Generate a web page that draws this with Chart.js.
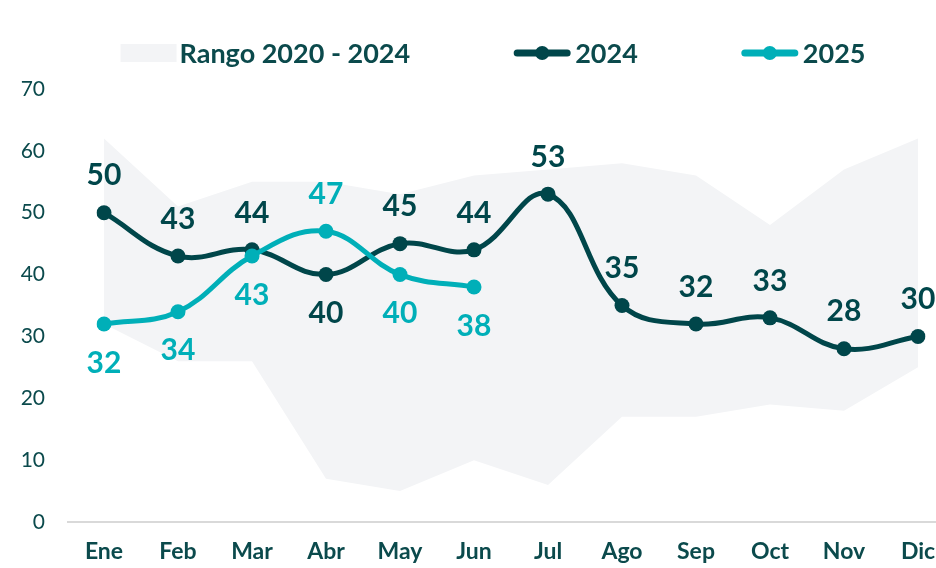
<!DOCTYPE html>
<html lang="es">
<head>
<meta charset="UTF-8">
<title>Rango 2020 - 2024 / 2024 / 2025</title>
<script src="https://cdn.jsdelivr.net/npm/chart.js@4.4.7/dist/chart.umd.min.js"></script>
<style>
*{margin:0;padding:0;box-sizing:border-box}
html,body{width:936px;height:568px;background:#fff;overflow:hidden}
canvas{display:block}
</style>
</head>
<body>
<canvas id="chart" width="936" height="568"></canvas>
<script>
var MONTHS = ["Ene","Feb","Mar","Abr","May","Jun","Jul","Ago","Sep","Oct","Nov","Dic"];
var RANGE_MAX = [62,51,55,55,53,56,57,58,56,48,57,62];
var RANGE_MIN = [32,26,26,7,5,10,6,17,17,19,18,25];
var SERIES_2024 = [50,43,44,40,45,44,53,35,32,33,28,30];
var SERIES_2025 = [32,34,43,47,40,38];
var Y_TICKS = [0,10,20,30,40,50,60,70];

var DARK = "#00464a", CYAN = "#00afb8", BAND = "#f3f4f6", TEXT = "#0b4a4c";
var FONT = "Lato, 'Open Sans', sans-serif";

// labels of the higher series go above the point, the lower one below
function labelAbove(ds, i) {
  var other = ds === 0 ? SERIES_2025[i] : SERIES_2024[i];
  var mine = ds === 0 ? SERIES_2024[i] : SERIES_2025[i];
  return other === undefined || mine >= other;
}

var pointLabels = {
  id: "pointLabels",
  afterDatasetsDraw: function (chart) {
    var ctx = chart.ctx;
    ctx.save();
    ctx.font = "bold 30px " + FONT;
    ctx.textAlign = "center";
    ctx.textBaseline = "middle";
    [[2, 0, DARK], [3, 1, CYAN]].forEach(function (d) {
      var meta = chart.getDatasetMeta(d[0]);
      var vals = chart.data.datasets[d[0]].data;
      ctx.fillStyle = d[2];
      meta.data.forEach(function (pt, i) {
        if (vals[i] == null) return;
        var up = labelAbove(d[1], i);
        ctx.fillText(String(vals[i]), pt.x, up ? pt.y - 37 : pt.y + 39);
      });
    });
    ctx.restore();
  }
};

var baseLine = {
  id: "baseLine",
  beforeDatasetsDraw: function (chart) {
    var ctx = chart.ctx, y = chart.scales.y.getPixelForValue(0);
    ctx.save();
    ctx.strokeStyle = "#d9d9d9";
    ctx.lineWidth = 2;
    ctx.beginPath();
    ctx.moveTo(67, y);
    ctx.lineTo(chart.width, y);
    ctx.stroke();
    ctx.restore();
  }
};

var topLegend = {
  id: "topLegend",
  afterDraw: function (chart) {
    var ctx = chart.ctx, cy = 53, gap = 104, mark = 56;
    ctx.save();
    ctx.font = "bold 27px " + FONT;
    ctx.textBaseline = "middle";
    ctx.textAlign = "left";
    var items = [
      { text: chart.data.datasets[0].label, kind: "box", color: BAND, sp: 3 },
      { text: chart.data.datasets[2].label, kind: "line", color: DARK, sp: 5 },
      { text: chart.data.datasets[3].label, kind: "line", color: CYAN, sp: 5 }
    ];
    var total = 0;
    items.forEach(function (it) { it.w = mark + it.sp + ctx.measureText(it.text).width; total += it.w; });
    total += gap * (items.length - 1);
    var x = 493 - total / 2;
    items.forEach(function (it) {
      if (it.kind === "box") {
        ctx.fillStyle = it.color;
        ctx.fillRect(x, cy - 9, mark, 18);
      } else {
        ctx.strokeStyle = it.color;
        ctx.lineWidth = 7;
        ctx.lineCap = "round";
        ctx.beginPath();
        ctx.moveTo(x + 3, cy);
        ctx.lineTo(x + mark - 3, cy);
        ctx.stroke();
        ctx.fillStyle = it.color;
        ctx.beginPath();
        ctx.arc(x + mark / 2, cy, 7, 0, Math.PI * 2);
        ctx.fill();
      }
      ctx.fillStyle = TEXT;
      ctx.fillText(it.text, x + mark + it.sp, cy + 1);
      x += it.w + gap;
    });
    ctx.restore();
  }
};

new Chart(document.getElementById("chart"), {
  type: "line",
  data: {
    labels: MONTHS,
    datasets: [
      { label: "Rango 2020 - 2024", data: RANGE_MAX, fill: "+1", backgroundColor: BAND,
        borderWidth: 0, pointRadius: 0, tension: 0, order: 3 },
      { label: "min", data: RANGE_MIN, fill: false, borderWidth: 0, pointRadius: 0,
        tension: 0, order: 2 },
      { label: "2024", data: SERIES_2024, borderColor: DARK, backgroundColor: DARK,
        pointBackgroundColor: DARK, pointBorderWidth: 0, pointRadius: 7.5, borderWidth: 5,
        tension: 0.4, fill: false, order: 1 },
      { label: "2025", data: SERIES_2025, borderColor: CYAN, backgroundColor: CYAN,
        pointBackgroundColor: CYAN, pointBorderWidth: 0, pointRadius: 7.5, borderWidth: 5,
        tension: 0.4, fill: false, order: 0 }
    ]
  },
  options: {
    responsive: false,
    animation: false,
    layout: { padding: { top: 89, right: 18, bottom: 0, left: 0 } },
    plugins: { legend: { display: false }, tooltip: { enabled: false } },
    scales: {
      x: {
        offset: false,
        grid: { display: false, drawTicks: false },
        border: { display: false },
        ticks: { color: TEXT, font: { family: FONT, size: 23, weight: "bold" }, padding: 16, maxRotation: 0 },
        afterFit: function (s) { s.height = 46; s.paddingLeft = 0; s.paddingRight = 0; }
      },
      y: {
        min: 0, max: 70,
        grid: { display: false, drawTicks: false },
        border: { display: false },
        afterBuildTicks: function (s) { s.ticks = Y_TICKS.map(function (v) { return { value: v }; }); },
        ticks: { color: TEXT, font: { family: FONT, size: 21 }, padding: 59 },
        afterFit: function (s) { s.width = 104; s.paddingTop = 0; s.paddingBottom = 0; }
      }
    }
  },
  plugins: [baseLine, pointLabels, topLegend]
});
</script>
</body>
</html>
